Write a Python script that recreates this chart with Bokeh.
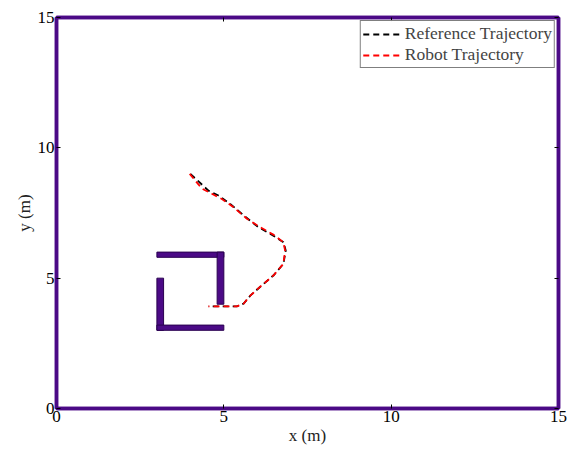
from bokeh.plotting import figure
from bokeh.models import LinearAxis, Range1d, FixedTicker, Legend, LegendItem
from bokeh.embed import file_html
from bokeh.resources import INLINE

# Reference trajectory (m)
ref_x = [4.0, 4.54, 4.84, 5.19, 5.6, 6.03, 6.43, 6.78, 6.85, 6.78, 6.48, 6.13, 5.79, 5.59, 5.39, 4.99, 4.54]
ref_y = [9.0, 8.36, 8.17, 7.85, 7.4, 6.96, 6.67, 6.38, 6.06, 5.55, 5.10, 4.72, 4.33, 4.02, 3.92, 3.92, 3.92]
# Robot trajectory (m)
rob_x = [3.98, 4.35, 4.64, 4.94, 5.29, 5.69, 6.08, 6.48, 6.78, 6.83, 6.78, 6.48, 6.13, 5.79, 5.59, 5.39, 4.99, 4.54]
rob_y = [9.00, 8.43, 8.24, 8.04, 7.72, 7.28, 6.96, 6.67, 6.38, 6.06, 5.55, 5.10, 4.72, 4.33, 4.02, 3.92, 3.92, 3.92]

# Obstacles (rectangles: left, right, bottom, top)
obs_left = [3.0, 4.8, 3.0, 3.0]
obs_right = [5.0, 5.0, 3.2, 5.0]
obs_bottom = [5.8, 4.0, 3.0, 3.0]
obs_top = [6.0, 6.0, 5.0, 3.2]

ticks = [0, 5, 10, 15]
WALL = "#4B0A86"
FONT = "Liberation Serif"

p = figure(frame_width=502, frame_height=391, output_backend="svg", toolbar_location=None,
           x_range=Range1d(0, 15), y_range=Range1d(0, 15),
           min_border_left=56, min_border_right=16, min_border_top=17, min_border_bottom=41)
p.grid.visible = False
p.background_fill_color = "white"
p.border_fill_color = "white"
p.outline_line_color = WALL
p.outline_line_width = 3.5

p.quad(left=obs_left, right=obs_right, bottom=obs_bottom, top=obs_top,
       fill_color=WALL, line_color="#2a0050", line_width=1)

r_ref = p.line(ref_x, ref_y, line_color="black", line_width=1.8, line_dash="6 4")
r_rob = p.line(rob_x, rob_y, line_color="red", line_width=1.8, line_dash="6 4")

p.add_layout(LinearAxis(), "right")
p.add_layout(LinearAxis(), "above")

for ax in p.axis:
    ax.ticker = FixedTicker(ticks=ticks)
    ax.minor_tick_line_color = None
    ax.major_tick_in = 4
    ax.major_tick_out = 0
    ax.axis_line_color = WALL
    ax.axis_line_width = 3.5
    ax.major_label_text_font = FONT
    ax.major_label_text_font_size = "17px"
    ax.major_label_text_color = "black"
    ax.major_label_standoff = 2
    ax.axis_label_text_font = FONT
    ax.axis_label_text_font_size = "17px"
    ax.axis_label_text_font_style = "normal"
    ax.axis_label_text_color = "#222222"
    ax.axis_label_standoff = 1

p.right[0].major_label_text_color = None
p.above[0].major_label_text_color = None
p.below[0].axis_label = "x (m)"
p.left[0].axis_label = "y (m)"

legend = Legend(items=[LegendItem(label="Reference Trajectory", renderers=[r_ref]),
                       LegendItem(label="Robot Trajectory", renderers=[r_rob])],
                location="top_right")
legend.label_text_font = FONT
legend.label_text_font_size = "17.5px"
legend.label_standoff = 2
legend.glyph_width = 40
legend.glyph_height = 20
legend.spacing = 0
legend.padding = 2
legend.margin = 3
legend.border_line_color = "black"
legend.border_line_width = 1
legend.label_height = 20
p.add_layout(legend)

open("out.html", "w").write(file_html(p, INLINE))
